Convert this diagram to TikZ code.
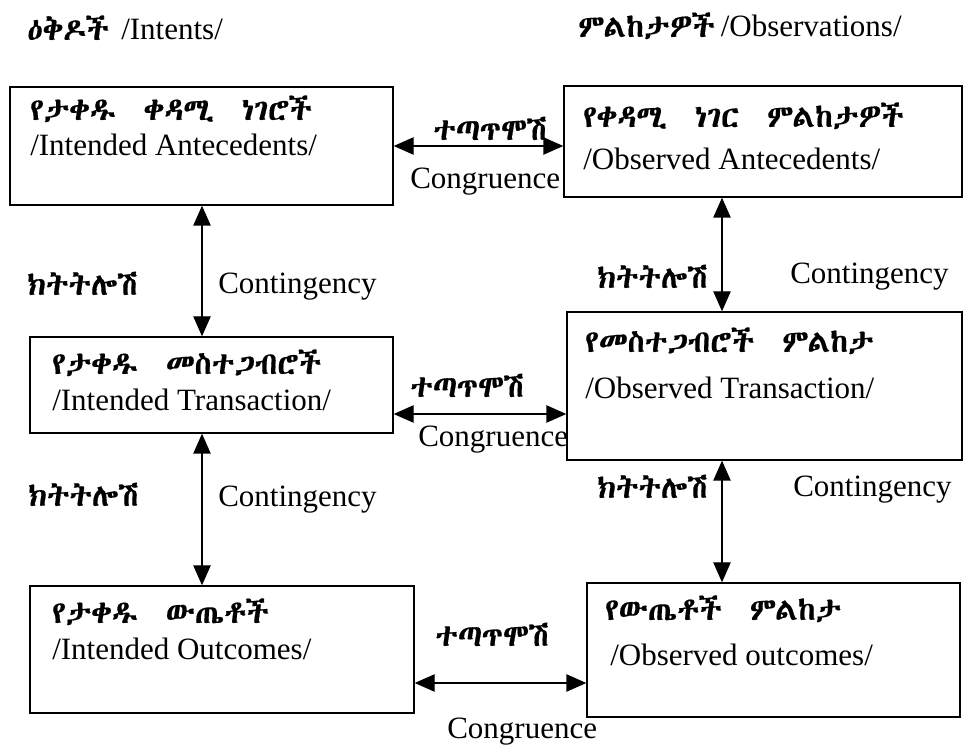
\documentclass[tikz,border=0pt]{standalone}
\usepackage{fontspec}
\setmainfont{Liberation Serif}
\usetikzlibrary{arrows.meta}
\IfFontExistsTF{Abyssinica SIL}{\newfontfamily\ethfont[FakeBold=0.5]{Abyssinica SIL}}{%
 \IfFontExistsTF{FreeSerif.otf}{\newfontfamily\ethfont{FreeSerif.otf}}{%
 \newfontfamily\ethfont{DejaVu Sans}}}
\begin{document}
\begin{tikzpicture}[x=0.75pt,y=-0.75pt,
  box/.style={draw, line width=1pt, rectangle, inner sep=0pt},
  en/.style={anchor=base west, inner sep=0pt, text height=16.5pt, text depth=5pt, font=\fontsize{23.25}{28}\selectfont},
  et/.style={anchor=base west, inner sep=0pt, text height=15pt, text depth=3pt, font=\fontsize{23.25}{28}\selectfont\ethfont},
  dbl/.style={line width=1pt, {Triangle[length=15pt,width=13pt]}-{Triangle[length=15pt,width=13pt]}}]
\useasboundingbox (0,0) rectangle (965,748);
% titles
\node[et] (t1) at (27,40) {ዕቅዶች};
\node[en] (t1e) at (121,40) {/Intents/};
\node[et] (t2) at (578,37) {ምልከታዎች};
\node[en] (t2e) at (t2.base east) [xshift=4pt] {/Observations/};
% boxes
\node[box, minimum width=287.25pt, minimum height=88.5pt] (b1) at (201.5,146) {};
\node[box, minimum width=298.5pt, minimum height=83.25pt] (b2) at (763,141.5) {};
\node[box, minimum width=272.25pt, minimum height=72pt] (b3) at (211.5,385) {};
\node[box, minimum width=296.25pt, minimum height=111pt] (b4) at (764.5,386) {};
\node[box, minimum width=288pt, minimum height=95.25pt] (b5) at (222,649.5) {};
\node[box, minimum width=279.75pt, minimum height=100.5pt] (b6) at (773.5,650) {};
% box texts
\node[et] (b1a) at (30,120) {የታቀዱ\ \ ቀዳሚ\ \ ነገሮች};
\node[en] (b1b) at (30,156) {/Intended Antecedents/};
\node[et] (b2a) at (583,127) {የቀዳሚ\ \ ነገር\ \ ምልከታዎች};
\node[en] (b2b) at (583,170) {/Observed Antecedents/};
\node[et] (b3a) at (52,374) {የታቀዱ\ \ መስተጋብሮች};
\node[en] (b3b) at (52,411) {/Intended Transaction/};
\node[et] (b4a) at (585,352) {የመስተጋብሮች\ \ ምልከታ};
\node[en] (b4b) at (585,399) {/Observed Transaction/};
\node[et] (b5a) at (52,623) {የታቀዱ\ \ ውጤቶች};
\node[en] (b5b) at (52,660) {/Intended Outcomes/};
\node[et] (b6a) at (605,620) {የውጤቶች\ \ ምልከታ};
\node[en] (b6b) at (610,666) {/Observed outcomes/};
% helper coordinates
\coordinate (h2) at (0,414);
\coordinate (h3) at (0,683);
\coordinate (v1) at (202,0);
\coordinate (v2) at (722,0);
% horizontal connectors
\draw[dbl] (b1.east) -- (b1.east -| b2.west);
\draw[dbl] (b3.east |- h2) -- (b4.west |- h2);
\draw[dbl] (b5.east |- h3) -- (b6.west |- h3);
% vertical connectors
\draw[dbl] (b1.south -| v1) -- (b3.north -| v1);
\draw[dbl] (b3.south -| v1) -- (b5.north -| v1);
\draw[dbl] (b2.south -| v2) -- (b4.north -| v2);
\draw[dbl] (b4.south -| v2) -- (b6.north -| v2);
% connector labels
\node[et] (c1a) at (433,140) {ተጣጥሞሽ};
\node[en] (c1b) at (410,189) {Congruence};
\node[et] (c2a) at (410,397) {ተጣጥሞሽ};
\node[en] (c2b) at (418,447) {Congruence};
\node[et] (c3a) at (435,646) {ተጣጥሞሽ};
\node[en] (c3b) at (447,739) {Congruence};
\node[et] (k1) at (27,295) {ክትትሎሽ};
\node[en] (k1e) at (218,294) {Contingency};
\node[et] (k2) at (28,506) {ክትትሎሽ};
\node[en] (k2e) at (218,507) {Contingency};
\node[et] (k3) at (597,288) {ክትትሎሽ};
\node[en] (k3e) at (790,284) {Contingency};
\node[et] (k4) at (597,498) {ክትትሎሽ};
\node[en] (k4e) at (793,497) {Contingency};
\end{tikzpicture}
\end{document}
